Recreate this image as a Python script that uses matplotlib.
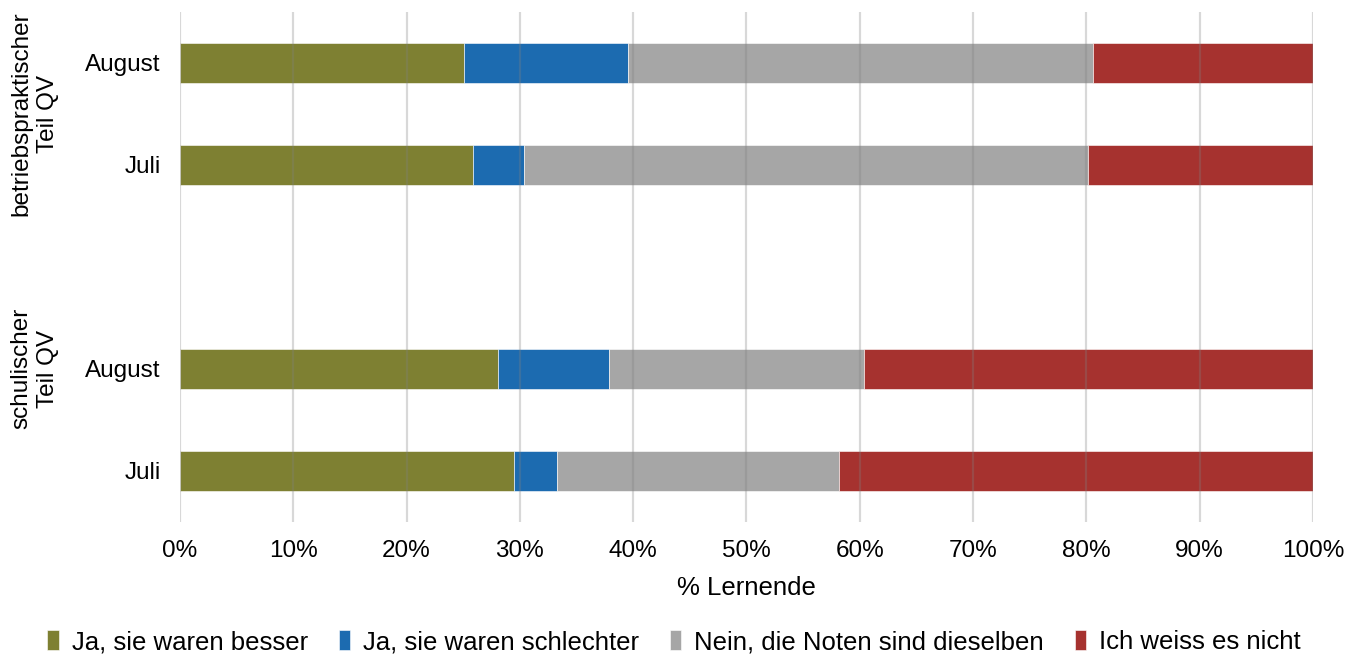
import numpy as np
import matplotlib.pyplot as plt
from matplotlib.ticker import PercentFormatter

plt.rcParams['font.family'] = ['Liberation Sans', 'DejaVu Sans']

# Daten (Anteile in %)
bar_labels = ['Juli', 'August', 'Juli', 'August']
bar_pos = [0, 1, 3, 4]
group_labels = ['schulischer\nTeil QV', 'betriebspraktischer\nTeil QV']
group_pos = [1.0, 3.5]

series = ['Ja, sie waren besser', 'Ja, sie waren schlechter',
          'Nein, die Noten sind dieselben', 'Ich weiss es nicht']
besser = np.array([29.5, 28.1, 25.9, 25.1])
schlechter = np.array([3.8, 9.8, 4.5, 14.4])
gleich = np.array([24.9, 22.5, 49.7, 41.1])
weiss_nicht = 100 - besser - schlechter - gleich
colors = ['#7E8032', '#1C6BB0', '#A6A6A6', '#A6322F']

fig = plt.figure(figsize=(13.46, 6.54), dpi=100)
ax = fig.add_axes([0.1337, 0.202, 0.8418, 0.780])

left = np.zeros(len(bar_pos))
for name, vals, c in zip(series, [besser, schlechter, gleich, weiss_nicht], colors):
    ax.barh(bar_pos, vals, left=left, height=0.39, color=c, label=name,
            edgecolor='white', linewidth=0.4, zorder=2)
    left += vals

ax.set_xlim(0, 100)
ax.set_ylim(-0.5, 4.5)
ax.set_xticks(np.arange(0, 101, 10))
ax.xaxis.set_major_formatter(PercentFormatter(decimals=0))
ax.set_yticks(bar_pos)
ax.set_yticklabels(bar_labels)
ax.tick_params(axis='both', length=0, labelsize=17.5, colors='#000000')
ax.tick_params(axis='y', pad=14)
ax.tick_params(axis='x', pad=13)
ax.grid(axis='x', color='#808080', alpha=0.3, linewidth=1.6, zorder=3)
ax.set_axisbelow(False)
for s in ax.spines.values():
    s.set_visible(False)
ax.set_xlabel('% Lernende', fontsize=18.5, labelpad=10)

for lab, y in zip(group_labels, group_pos):
    ax.text(-0.128, y, lab, transform=ax.get_yaxis_transform(), rotation=90,
            ha='center', va='center', fontsize=17.5, ma='center',
            linespacing=1.25)

fig.legend(loc='center', ncol=4, fontsize=18.5, frameon=False,
           bbox_to_anchor=(0.5007, 0.018), handlelength=0.45, handleheight=0.8,
           handletextpad=0.5, columnspacing=1.2)

fig.savefig('out.png', dpi=100)
